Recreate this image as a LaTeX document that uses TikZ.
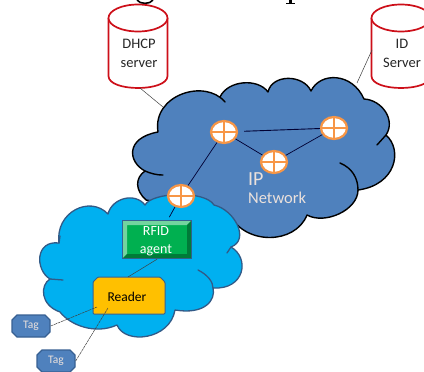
\documentclass[tikz,border=0pt]{standalone}
\usepackage{fontspec}
\setmainfont{Carlito}
\usetikzlibrary{shapes.misc,shapes.geometric}
\definecolor{ipblue}{RGB}{79,129,189}
\definecolor{skyb}{RGB}{0,176,240}
\definecolor{srvred}{RGB}{205,15,25}
\definecolor{rout}{RGB}{247,150,70}
\definecolor{agent}{RGB}{0,176,80}
\definecolor{agentedge}{RGB}{55,96,146}
\definecolor{readery}{RGB}{255,192,0}
\definecolor{cloudedge}{RGB}{50,90,135}
\definecolor{paletext}{RGB}{235,225,220}
\tikzset{
  x=1pt,y=-1pt,
  ipcloud/.style={fill=ipblue,draw=black,line width=1.4pt,line join=round},
  rfcloud/.style={fill=skyb,draw=cloudedge,line width=1.3pt,line join=round},
  cloudtail/.style={line cap=round},
  link/.style={draw=black!75,line width=0.5pt},
  netlink/.style={draw=black!80!blue,line width=0.7pt},
  srv/.style={draw=srvred,fill=white,line width=1.7pt},
  lbl/.style={font=\fontsize{14.5}{19}\selectfont,align=center,inner sep=0pt,text=black!85},
  router/.style={ellipse,draw=rout,fill=white,line width=2.2pt,minimum width=26pt,minimum height=22pt,inner sep=0pt,
    path picture={\draw[rout,line width=1.5pt] (path picture bounding box.north) -- (path picture bounding box.south) (path picture bounding box.west) -- (path picture bounding box.east);}},
  tagbox/.style={draw=agentedge,fill=ipblue,line width=1.4pt,chamfered rectangle,chamfered rectangle corners={north west,north east,south west,south east},chamfered rectangle xsep=2.5pt,chamfered rectangle ysep=2.5pt,minimum width=38pt,minimum height=22pt,inner sep=0pt,text=paletext,font=\fontsize{11.5}{13}\selectfont},
}
\newcommand{\srvcyl}[2]{%
  \draw[srv] (#1-29.5,#2-26) -- (#1-29.5,#2+32) .. controls (#1-29.5,#2+48) and (#1+29.5,#2+48) .. (#1+29.5,#2+32) -- (#1+29.5,#2-26);
  \draw[srv] (#1,#2-26) ellipse [x radius=29.5,y radius=13.5];}
\begin{document}
\begin{tikzpicture}
\useasboundingbox (0,0) rectangle (424,372);
\clip (0,0) rectangle (424,372);
% remains of a title cut by the frame
\draw[line width=1.6pt,black] (137,0) .. controls (140,4.5) and (150,4.5) .. (153,0);
\draw[line width=3pt,black] (290.5,0) -- (290.5,3);
\draw[line width=1.1pt,black] (286,3.6) -- (295,3.6);
% IP cloud
\draw[ipcloud] (158,132)
  .. controls (152,95) and (205,78) .. (225,102)
  -- (220,97)
  .. controls (228,80) and (258,78) .. (268,92)
  .. controls (272,74) and (303,74) .. (311,91)
  .. controls (320,72) and (352,72) .. (364,99)
  .. controls (382,100) and (396,120) .. (386,135)
  .. controls (403,150) and (396,185) .. (358,190)
  .. controls (358,210) and (325,225) .. (307,215)
  .. controls (295,245) and (245,245) .. (230,215)
  -- (146,200)
  .. controls (135,190) and (135,178) .. (145,171)
  .. controls (128,162) and (125,138) .. (158,132) -- cycle;
\draw[ipcloud,fill=none,cloudtail]
  (386,135) -- (377,145)
  (340,163) .. controls (352,168) and (358,178) .. (358,190)
  (163,175) .. controls (155,175) and (150,173) .. (145,171);
% RFID cloud
\draw[rfcloud] (145,205)
  .. controls (152,192) and (205,190) .. (214,205)
  .. controls (235,210) and (250,240) .. (231,247)
  .. controls (250,258) and (245,290) .. (213,288)
  .. controls (216,300) and (205,315) .. (175,310)
  .. controls (170,340) and (125,345) .. (117,325)
  .. controls (95,335) and (70,325) .. (60,312)
  .. controls (40,305) and (40,285) .. (50,279)
  .. controls (35,270) and (35,240) .. (59,243)
  .. controls (55,212) and (90,195) .. (108,214)
  .. controls (112,198) and (135,192) .. (145,205) -- cycle;
\draw[rfcloud,fill=none,cloudtail]
  (198,270) .. controls (208,275) and (213,282) .. (213,288)
  (231,247) -- (227,253)
  (50,279) -- (63,280)
  (59,243) -- (60,236);
% Servers
\srvcyl{138}{44}
\srvcyl{401}{44}
\node[lbl] (dhcpl) at (139,53) {DHCP\\server};
\node[lbl] (idl) at (402,53) {ID\\Server};
\coordinate (dhcpb) at (140,88);
\coordinate (ipa) at (163,107);
\draw[link] (dhcpb) -- (ipa);
\coordinate (idb) at (372,50);
\coordinate (ipb) at (357,83);
\draw[link] (idb) -- (ipb);
% routers
\node[router] (r1) at (224,132) {};
\node[router] (r2) at (334,128) {};
\node[router] (r3) at (274,162) {};
\node[router] (r4) at (181,196) {};
\draw[netlink,line width=0.9pt,shorten <=6pt] (r1) -- (r2);
\draw[netlink] (r1) -- (r3);
\draw[netlink] (r3) -- (r2);
\draw[netlink] (r1) -- (r4);
% labels
\node[text=paletext,font=\fontsize{20}{22}\selectfont,anchor=west,inner sep=0pt] (ipl) at (248,179) {IP};
\node[text=paletext,font=\fontsize{16.5}{19}\selectfont,anchor=west,inner sep=0pt] (netl) at (248,198) {Network};
% agent
\node[draw=agentedge,fill=agent,line width=1.5pt,minimum width=69pt,minimum height=38pt,inner sep=0pt] (ag) at (157,239.5) {};
\fill[white!45!agent] (123,221) -- (191,221) -- (187,225) -- (127,225) -- (127,254) -- (123,258) -- cycle;
\fill[black!30!agent] (191,221) -- (191,258) -- (123,258) -- (127,254) -- (187,254) -- (187,225) -- cycle;
\node[text=white,font=\fontsize{14}{18}\selectfont,align=center,inner sep=0pt] (agl) at (156,241) {RFID\\agent};
\draw[netlink,shorten >=3pt] (r4) -- (ag);
% reader
\draw[draw=agentedge,fill=readery,line width=1pt,rounded corners=1pt] (98,277) -- (160,277) -- (165,282) -- (165,314) -- (93,314) -- (93,282) -- cycle;
\node[text=black,font=\fontsize{13.5}{15}\selectfont,inner sep=0pt] (rd) at (127,297) {Reader};
\coordinate (rdt) at (128,277);
\draw[link] (ag.south) -- (rdt);
% tags
\node[tagbox] (t1) at (31,326) {Tag};
\node[tagbox] (t2) at (56,361) {Tag};
\coordinate (rd1) at (97,307);
\coordinate (rd2) at (108,308);
\draw[link,dash pattern=on 3pt off 0.7pt] (t1.east) -- (rd1);
\draw[link,dash pattern=on 3pt off 0.7pt] (t2.east) -- (rd2);
\end{tikzpicture}
\end{document}
